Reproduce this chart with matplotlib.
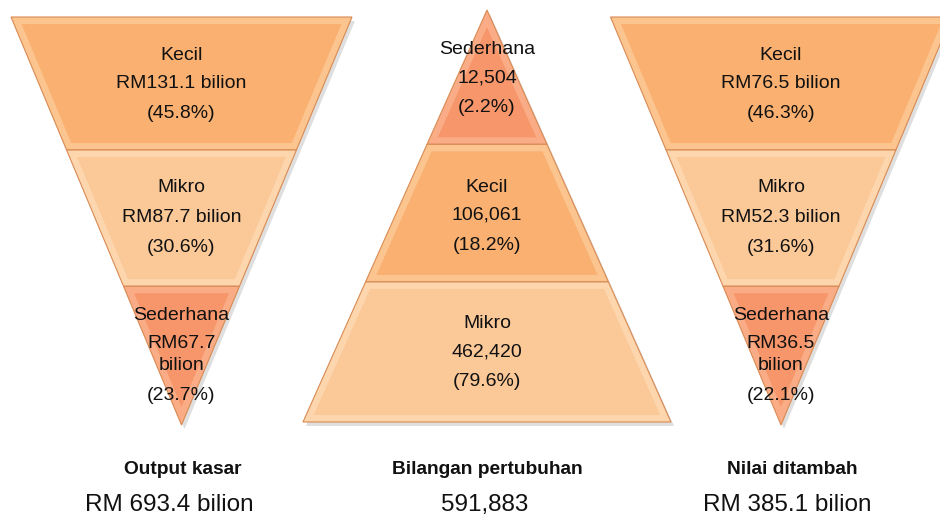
import numpy as np
import matplotlib
matplotlib.use("Agg")
import matplotlib.pyplot as plt
from matplotlib.patches import Polygon

plt.rcParams['font.family'] = ['Liberation Sans', 'DejaVu Sans']

# ---- data ----
panel_titles = ["Output kasar", "Bilangan pertubuhan", "Nilai ditambah"]
panel_totals = ["RM 693.4 bilion", "591,883", "RM 385.1 bilion"]

output_cats = ["Kecil", "Mikro", "Sederhana"]
output_vals = ["RM131.1 bilion", "RM87.7 bilion", "RM67.7\nbilion"]
output_pct = [45.8, 30.6, 23.7]

estab_cats = ["Sederhana", "Kecil", "Mikro"]
estab_vals = ["12,504", "106,061", "462,420"]
estab_pct = [2.2, 18.2, 79.6]

va_cats = ["Kecil", "Mikro", "Sederhana"]
va_vals = ["RM76.5 bilion", "RM52.3 bilion", "RM36.5\nbilion"]
va_pct = [46.3, 31.6, 22.1]

colors = {"Kecil": "#F9B071", "Mikro": "#FBC898", "Sederhana": "#F7966A"}
frame_col = {"Kecil": "#FCC58F", "Mikro": "#FDD6AE", "Sederhana": "#F9AC86"}


def inset(poly, d):
    # move each edge inwards by d, intersect neighbours
    pts = np.asarray(poly, float)
    n = len(pts)
    c = pts.mean(axis=0)
    lines = []
    for i in range(n):
        p, q = pts[i], pts[(i + 1) % n]
        t = (q - p) / np.linalg.norm(q - p)
        nrm = np.array([-t[1], t[0]])
        if np.dot(c - p, nrm) < 0:
            nrm = -nrm
        lines.append((p + nrm * d, t))
    out = []
    for i in range(n):
        p1, t1 = lines[i - 1]
        p2, t2 = lines[i]
        A = np.array([t1, -t2]).T
        s = np.linalg.solve(A, p2 - p1)
        out.append(p1 + t1 * s[0])
    return np.array(out)


def band(ax, poly, cat):
    poly = np.asarray(poly, float)
    # shadow
    ax.add_patch(Polygon(poly + [3, 4], closed=True, fc="#B8B8B8", ec="none",
                         alpha=0.45, zorder=1))
    ax.add_patch(Polygon(poly, closed=True, fc=frame_col[cat], ec="#D98A52",
                         lw=0.8, zorder=2))
    ax.add_patch(Polygon(inset(poly, 7), closed=True, fc=colors[cat],
                         ec="none", zorder=3))


def triangle(ax, cx, half, ytop, ybot, inverted, cats, vals, pct, text_y):
    h = ybot - ytop
    edges = [ytop, ytop + h * 0.326, ytop + h * 0.66, ybot]

    def halfw(y):
        f = (y - ytop) / h
        return half * (1 - f) if inverted else half * f

    for i, cat in enumerate(cats):
        y0, y1 = edges[i], edges[i + 1]
        w0, w1 = halfw(y0), halfw(y1)
        if w0 < 0.5:
            poly = [(cx, y0), (cx + w1, y1), (cx - w1, y1)]
        elif w1 < 0.5:
            poly = [(cx - w0, y0), (cx + w0, y0), (cx, y1)]
        else:
            poly = [(cx - w0, y0), (cx + w0, y0), (cx + w1, y1), (cx - w1, y1)]
        band(ax, poly, cat)
        lines = [cat] + vals[i].split("\n") + [f"({pct[i]}%)"]
        for t, y in zip(lines, text_y[i]):
            ax.text(cx, y, t, ha="center", va="center", fontsize=14,
                    color="#111111", zorder=5)


fig = plt.figure(figsize=(9.4, 5.16), dpi=100)
ax = fig.add_axes([0, 0, 1, 1])
ax.set_xlim(0, 940)
ax.set_ylim(516, 0)
ax.axis("off")

three = [[55, 84, 113], [188, 218, 247], [316, 344, 366, 396]]
triangle(ax, 181.5, 170.5, 17, 425, True, output_cats, output_vals, output_pct, three)
triangle(ax, 487, 184, 10, 422, False, estab_cats, estab_vals, estab_pct,
         [[49, 78, 107], [187, 215, 245], [323, 352, 382]])
triangle(ax, 781, 170.5, 17, 425, True, va_cats, va_vals, va_pct, three)

title_x = [183, 487, 792]
total_x = [169, 485, 787]
for i in range(3):
    ax.text(title_x[i], 470, panel_titles[i], ha="center", va="center",
            fontsize=13.8, fontweight="bold", color="#111111")
    ax.text(total_x[i], 505, panel_totals[i], ha="center", va="center",
            fontsize=17.5, color="#111111")

fig.savefig("out.png", dpi=100)
